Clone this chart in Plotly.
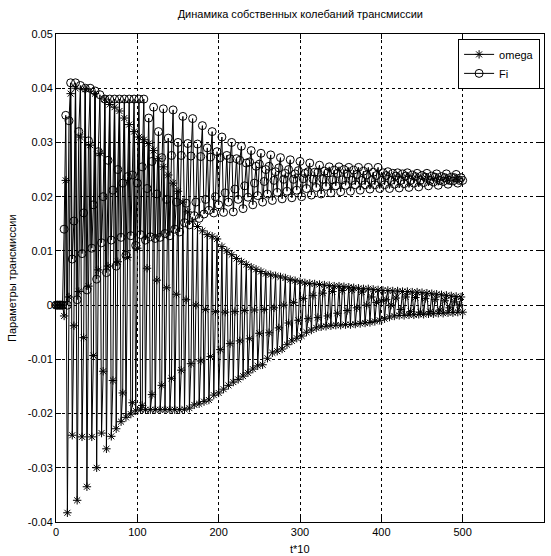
import plotly.graph_objects as go

# Sample grid: t*10 from 0 to 500, step 2. Samples are grouped in 6 interleaved tracks
# (sample n belongs to track n % 6, its j-th value is at t = 2*k + 12*j), each read from the picture.
t = list(range(0, 501, 2))

omega_tracks = [
    # k=0: upper envelope
    [0, 0.023, 0.040, 0.0398, 0.039, 0.038, 0.0365, 0.0345, 0.032, 0.0305, 0.0285, 0.0255, 0.0225, 0.019,
     0.0155, 0.0137, 0.0127, 0.0108, 0.0093, 0.008, 0.007, 0.0062, 0.0056, 0.0052, 0.0047, 0.0043, 0.004,
     0.0038, 0.0036, 0.0035, 0.0033, 0.0031, 0.003, 0.0028, 0.0027, 0.0026, 0.0025, 0.0024, 0.0022, 0.002,
     0.0018, 0.0016],
    # k=1: lower envelope
    [0, -0.0383, -0.036, -0.0335, -0.030, -0.0265, -0.0228, -0.0207, -0.0195, -0.0193, -0.0193, -0.0193,
     -0.0193, -0.0192, -0.0184, -0.0178, -0.0166, -0.0155, -0.0142, -0.0131, -0.0118, -0.011, -0.0088,
     -0.0081, -0.0066, -0.0057, -0.0046, -0.004, -0.0038, -0.0037, -0.0036, -0.0034, -0.0032, -0.0028,
     -0.0022, -0.0019, -0.0018, -0.0017, -0.0016, -0.0015, -0.0014, -0.0013],
    # k=2: rising / falling middle line
    [0, 0.0015, 0.0025, 0.0035, 0.0065, 0.0072, 0.008, 0.0088, 0.0105, 0.0068, 0.0046, 0.0032, 0.002, 0.001,
     0.0, -0.0008, -0.0012, -0.0013, -0.0012, -0.001, -0.0009, -0.0008, -0.0005, 0.0, 0.0005, 0.0012, 0.0018,
     0.0022, 0.0025, 0.0027, 0.0028, 0.0024, 0.0015, 0.0008, 0.0, -0.0008, -0.0012, -0.0013, -0.0012,
     -0.0009, -0.0005, 0.0],
    # k=3: upper envelope (with the short descending chain near the start)
    [0, 0.039, 0.031, 0.0295, 0.028, 0.037, 0.0358, 0.0333, 0.031, 0.0298, 0.027, 0.024, 0.021, 0.0172,
     0.0145, 0.013, 0.0122, 0.010, 0.0086, 0.0075, 0.0066, 0.0058, 0.0054, 0.005, 0.0045, 0.0041, 0.0039,
     0.0037, 0.0035, 0.0034, 0.0032, 0.003, 0.0029, 0.0027, 0.0026, 0.0025, 0.0024, 0.0023, 0.0021, 0.0019,
     0.0017, 0.0015],
    # k=4: the -0.024 row, then the lower envelope
    [0, -0.024, -0.0243, -0.0243, -0.0236, -0.0242, -0.0215, -0.0201, -0.0193, -0.0193, -0.0193, -0.0193,
     -0.0193, -0.019, -0.0182, -0.0175, -0.0162, -0.0148, -0.0137, -0.0125, -0.0112, -0.0098, -0.0085,
     -0.0073, -0.0061, -0.005, -0.0042, -0.0039, -0.0037, -0.0036, -0.0035, -0.0033, -0.003, -0.0025,
     -0.002, -0.0019, -0.0018, -0.0017, -0.0016, -0.0015, -0.0014, -0.0013],
    # k=5: descending middle line
    [-0.002, -0.0038, -0.006, -0.0093, -0.0122, -0.0139, -0.0162, -0.018, -0.0185, -0.0165, -0.0148,
     -0.0135, -0.012, -0.0108, -0.0103, -0.0095, -0.0082, -0.0071, -0.0066, -0.0062, -0.0052, -0.0051,
     -0.0042, -0.0033, -0.0028, -0.0025, -0.0023, -0.002, -0.0015, -0.001, -0.0005, 0.0, 0.0005, 0.001,
     0.0013, 0.0015, 0.0014, 0.0012, 0.001, 0.0008, 0.0006],
]

fi_tracks = [
    # k=0: upper envelope
    [0, 0.035, 0.041, 0.040, 0.0395, 0.038, 0.038, 0.038, 0.038, 0.038, 0.0365, 0.0362, 0.036, 0.0348,
     0.0344, 0.0331, 0.032, 0.031, 0.030, 0.0293, 0.0285, 0.028, 0.0277, 0.0272, 0.0268, 0.0265, 0.0262,
     0.0258, 0.0255, 0.0255, 0.0254, 0.0254, 0.0254, 0.0254, 0.0246, 0.0244, 0.0244, 0.0243, 0.0243,
     0.0242, 0.0242, 0.0241],
    # k=1: rising lower line
    [0, 0.0, 0.001, 0.0028, 0.0048, 0.006, 0.0072, 0.0092, 0.011, 0.012, 0.0123, 0.0132, 0.014, 0.0152,
     0.0165, 0.0168, 0.017, 0.0171, 0.0172, 0.0178, 0.0185, 0.019, 0.0193, 0.0196, 0.0198, 0.020, 0.0203,
     0.0205, 0.0207, 0.0209, 0.021, 0.0212, 0.0214, 0.0215, 0.0215, 0.0216, 0.0217, 0.0218, 0.022, 0.0221,
     0.0223, 0.0225],
    # k=2: descending line
    [0, 0.034, 0.032, 0.0303, 0.0283, 0.0267, 0.025, 0.0237, 0.0225, 0.0215, 0.0205, 0.0195, 0.019, 0.0188,
     0.019, 0.0195, 0.020, 0.0207, 0.0214, 0.022, 0.0225, 0.0228, 0.023, 0.0232, 0.0232, 0.0233, 0.0232,
     0.0232, 0.0231, 0.0231, 0.023, 0.023, 0.023, 0.023, 0.023, 0.023, 0.023, 0.023, 0.023, 0.023, 0.023,
     0.023],
    # k=3: upper envelope, then a second upper row
    [0, 0.041, 0.0405, 0.040, 0.0388, 0.038, 0.038, 0.038, 0.038, 0.0345, 0.032, 0.0308, 0.030, 0.0298,
     0.0297, 0.029, 0.0283, 0.0276, 0.027, 0.0262, 0.0256, 0.025, 0.0246, 0.0243, 0.0242, 0.0243, 0.0245,
     0.0247, 0.0249, 0.025, 0.0249, 0.0247, 0.0245, 0.0244, 0.0243, 0.0242, 0.024, 0.0239, 0.0238, 0.0237,
     0.0236, 0.0235],
    # k=4: second lower row
    [0, 0.0085, 0.0095, 0.0105, 0.0115, 0.012, 0.0125, 0.0128, 0.013, 0.0126, 0.0125, 0.0128, 0.0135,
     0.0148, 0.016, 0.0175, 0.0185, 0.019, 0.0195, 0.0199, 0.0202, 0.0205, 0.0208, 0.021, 0.0212, 0.0215,
     0.0217, 0.0219, 0.022, 0.0221, 0.0222, 0.0222, 0.0222, 0.0222, 0.0223, 0.0224, 0.0225, 0.0226, 0.0227,
     0.0228, 0.0229, 0.023],
    # k=5: rising middle line
    [0.014, 0.0155, 0.017, 0.0185, 0.020, 0.0212, 0.0225, 0.024, 0.0255, 0.0265, 0.0272, 0.0276, 0.0276,
     0.0275, 0.0274, 0.0273, 0.0272, 0.027, 0.0267, 0.0264, 0.026, 0.0256, 0.0253, 0.025, 0.0248, 0.0246,
     0.0245, 0.0244, 0.0243, 0.0242, 0.0241, 0.024, 0.0239, 0.0239, 0.0238, 0.0238, 0.0237, 0.0236, 0.0236,
     0.0235, 0.0235],
]

x_ticks = [0, 100, 200, 300, 400, 500, 600]
y_ticks = [-0.04, -0.03, -0.02, -0.01, 0, 0.01, 0.02, 0.03, 0.04, 0.05]
y_labels = ["-0.04", "-0.03", "-0.02", "-0.01", "0", "0.01", "0.02", "0.03", "0.04", "0.05"]

omega = []
fi = []
for n in range(len(t)):
    k, j = n % 6, n // 6
    omega.append(omega_tracks[k][j])
    fi.append(fi_tracks[k][j])

FONT = "Liberation Sans, Arial, sans-serif"

fig = go.Figure()
fig.add_trace(go.Scatter(
    x=t, y=omega, name="omega", mode="lines+markers", cliponaxis=False,
    line=dict(color="black", width=1),
    marker=dict(symbol="asterisk-open", size=7, color="black", line=dict(color="black", width=1)),
))
fig.add_trace(go.Scatter(
    x=t, y=fi, name="Fi", mode="lines+markers", cliponaxis=False,
    line=dict(color="black", width=1),
    marker=dict(symbol="circle-open", size=8, color="black", line=dict(color="black", width=1)),
))

axis_common = dict(
    showline=True, linecolor="black", linewidth=1, mirror="ticks",
    ticks="inside", ticklen=5, tickcolor="black",
    showgrid=True, gridcolor="black", gridwidth=1, griddash="dot",
    zeroline=False, tickfont=dict(family=FONT, size=11, color="black"),
)

fig.update_xaxes(range=[0, 600], tickvals=x_ticks, **axis_common)
fig.update_yaxes(range=[-0.04, 0.05], tickvals=y_ticks, ticktext=y_labels, **axis_common)

fig.update_layout(
    width=551, height=556,
    margin=dict(l=56, r=7, t=34, b=34),
    paper_bgcolor="white", plot_bgcolor="white",
    font=dict(family=FONT, size=11, color="black"),
    title=dict(text="Динамика собственных колебаний трансмиссии", x=0.545, xanchor="center",
               y=1 - 14 / 556, yanchor="middle", font=dict(family=FONT, size=11, color="black")),
    showlegend=True,
    legend=dict(x=0.992, y=0.99, xanchor="right", yanchor="top", bgcolor="white",
                bordercolor="black", borderwidth=1, font=dict(family=FONT, size=11, color="black"),
                tracegroupgap=0, itemwidth=30),
    hovermode=False,
    annotations=[
        dict(text="t*10", xref="paper", yref="paper", x=0.5, y=-27 / 488, xanchor="center",
             yanchor="middle", showarrow=False, font=dict(family=FONT, size=11, color="black")),
        dict(text="Параметры трансмиссии", xref="paper", yref="paper", x=-44 / 488, y=0.5,
             xanchor="center", yanchor="middle", textangle=-90, showarrow=False,
             font=dict(family=FONT, size=11, color="black")),
    ],
)

fig.write_html("out.html", config={"displayModeBar": False})
